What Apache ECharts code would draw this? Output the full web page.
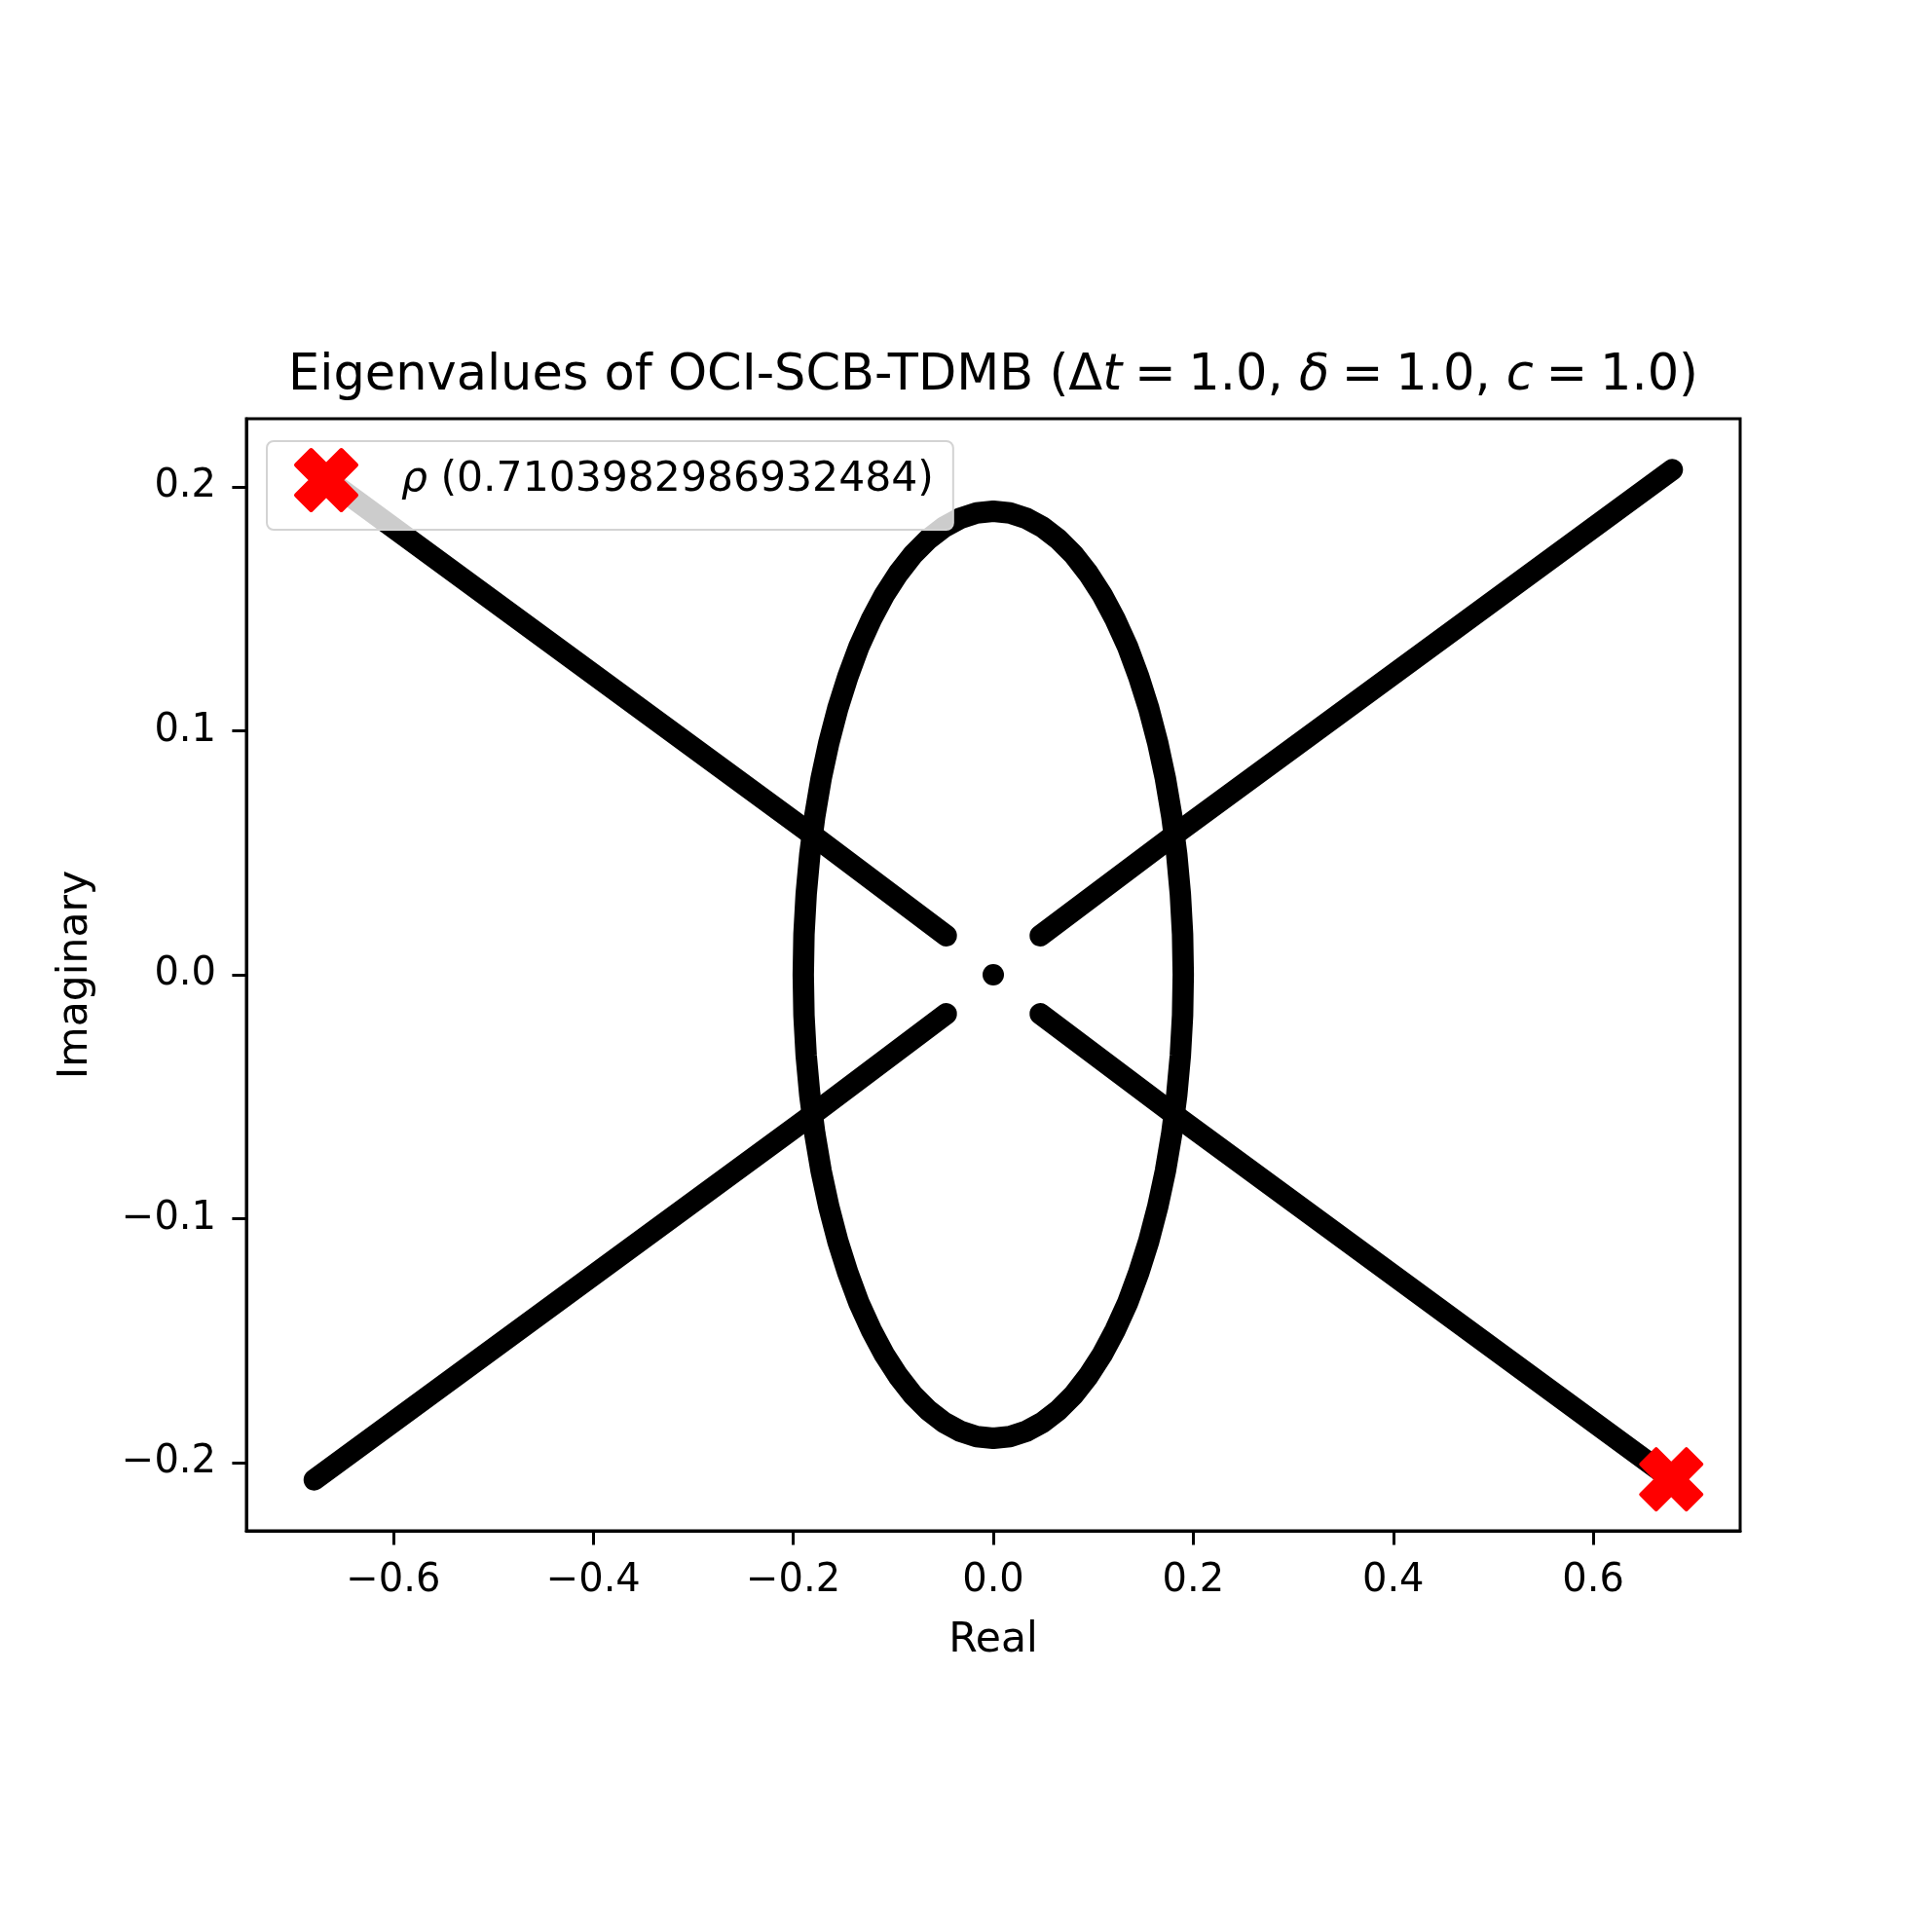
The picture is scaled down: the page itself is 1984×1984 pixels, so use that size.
<!DOCTYPE html>
<html>
<head>
<meta charset="utf-8">
<script src="https://cdn.jsdelivr.net/npm/echarts@6/dist/echarts.min.js"></script>
<style>
html,body{margin:0;padding:0;background:#fff;}
#chart{width:1984px;height:1984px;}
</style>
</head>
<body>
<div id="chart"></div>
<script>
// ---- data ----
const titleText = 'Eigenvalues of OCI-SCB-TDMB (';
const xLabel = 'Real';
const yLabel = 'Imaginary';
const rhoLabel = '0.7103982986932484';

const xTicks = [-0.6, -0.4, -0.2, 0.0, 0.2, 0.4, 0.6];
const yTicks = [-0.2, -0.1, 0.0, 0.1, 0.2];

// closed loop of eigenvalues (approx. circle of radius 0.19), traced every 5 degrees
const loopReal = [
  0.1900, 0.1893, 0.1871, 0.1835, 0.1785, 0.1722, 0.1645, 0.1556, 0.1455, 0.1344,
  0.1221, 0.1090, 0.0950, 0.0803, 0.0650, 0.0492, 0.0330, 0.0166, 0.0000,
  -0.0166, -0.0330, -0.0492, -0.0650, -0.0803, -0.0950, -0.1090, -0.1221, -0.1344,
  -0.1455, -0.1556, -0.1645, -0.1722, -0.1785, -0.1835, -0.1871, -0.1893, -0.1900,
  -0.1893, -0.1871, -0.1835, -0.1785, -0.1722, -0.1645, -0.1556, -0.1455, -0.1344,
  -0.1221, -0.1090, -0.0950, -0.0803, -0.0650, -0.0492, -0.0330, -0.0166, 0.0000,
  0.0166, 0.0330, 0.0492, 0.0650, 0.0803, 0.0950, 0.1090, 0.1221, 0.1344,
  0.1455, 0.1556, 0.1645, 0.1722, 0.1785, 0.1835, 0.1871, 0.1893, 0.1900];
const loopImag = [
  0.0000, 0.0166, 0.0330, 0.0492, 0.0650, 0.0803, 0.0950, 0.1090, 0.1221, 0.1344,
  0.1455, 0.1556, 0.1645, 0.1722, 0.1785, 0.1835, 0.1871, 0.1893, 0.1900,
  0.1893, 0.1871, 0.1835, 0.1785, 0.1722, 0.1645, 0.1556, 0.1455, 0.1344,
  0.1221, 0.1090, 0.0950, 0.0803, 0.0650, 0.0492, 0.0330, 0.0166, 0.0000,
  -0.0166, -0.0330, -0.0492, -0.0650, -0.0803, -0.0950, -0.1090, -0.1221, -0.1344,
  -0.1455, -0.1556, -0.1645, -0.1722, -0.1785, -0.1835, -0.1871, -0.1893, -0.1900,
  -0.1893, -0.1871, -0.1835, -0.1785, -0.1722, -0.1645, -0.1556, -0.1455, -0.1344,
  -0.1221, -0.1090, -0.0950, -0.0803, -0.0650, -0.0492, -0.0330, -0.0166, 0.0000];

// four straight branches
const ulReal = [-0.679, -0.1855, -0.047];
const ulImag = [0.207, 0.0587, 0.016];
const urReal = [0.047, 0.1855, 0.679];
const urImag = [0.016, 0.0587, 0.207];
const llReal = [-0.679, -0.1855, -0.047];
const llImag = [-0.207, -0.0587, -0.016];
const lrReal = [0.047, 0.1855, 0.679];
const lrImag = [-0.016, -0.0587, -0.207];

// isolated eigenvalue at origin
const originReal = [0.0];
const originImag = [0.0];

// spectral radius point
const rhoReal = [0.678];
const rhoImag = [-0.2068];

// ---- build ----
function pairs(xs, ys) { return xs.map((x, i) => [x, ys[i]]); }
function fmt(v) {
  let s = (Math.abs(v) < 1e-9 ? 0 : v).toFixed(1);
  return s.replace('-', '\u2212');
}
const FONT = 'DejaVu Sans';
const FS = 40;     // tick labels
const FL = 42.5;   // axis labels & legend
const FT = 51;     // title
const xPath = 'path://M-1,-2L0,-1L1,-2L2,-1L1,0L2,1L1,2L0,1L-1,2L-2,1L-1,0L-2,-1Z';
const blackLine = { color: '#000', width: 22, cap: 'round', join: 'round', opacity: 1 };

function branch(name, xs, ys) {
  return {
    name: name, type: 'line', data: pairs(xs, ys), showSymbol: false, symbol: 'none',
    lineStyle: blackLine, silent: true, z: 2
  };
}

const chart = echarts.init(document.getElementById('chart'), null, { renderer: 'canvas' });
chart.setOption({
  animation: false,
  backgroundColor: '#fff',
  textStyle: { fontFamily: FONT },
  title: {
    text: titleText + '\u0394{i|t}{s| }={s| }1.0, {i|\u03b4}{s| }={s| }1.0, {i|c}{s| }={s| }1.0)',
    left: 1020, top: 361, textAlign: 'center', padding: 0,
    textStyle: {
      fontFamily: FONT, fontSize: FT, fontWeight: 'normal', color: '#000',
      rich: {
        i: { fontFamily: FONT, fontSize: FT, fontStyle: 'italic', color: '#000' },
        s: { fontFamily: FONT, fontSize: 40, color: '#000' }
      }
    }
  },
  grid: {
    left: 253, right: 197, top: 430, bottom: 412, containLabel: false,
    show: true, borderColor: '#000', borderWidth: 3, backgroundColor: 'transparent'
  },
  legend: {
    data: ['rho'], left: 274, top: 453,
    padding: [7, 20, 18, 28],
    itemWidth: 62, itemHeight: 62,
    backgroundColor: 'rgba(255,255,255,0.8)',
    borderColor: '#d3d3d3', borderWidth: 2, borderRadius: 7,
    itemStyle: { color: '#ff0000', borderColor: '#ff0000', borderWidth: 4, borderJoin: 'round', opacity: 1 },
    formatter: function () { return '{sp|}{i|\u03c1} (' + rhoLabel + ')'; },
    textStyle: {
      fontFamily: FONT, fontSize: FL, color: '#000',
      rich: {
        sp: { width: 41 },
        i: { fontFamily: FONT, fontSize: FL, fontStyle: 'italic', color: '#000' }
      }
    }
  },
  xAxis: {
    type: 'value', min: -0.7469, max: 0.7469,
    name: xLabel, nameLocation: 'middle', nameGap: 91,
    nameTextStyle: { fontFamily: FONT, fontSize: FL, color: '#000' },
    axisLine: { show: true, onZero: false, lineStyle: { color: '#000', width: 3 } },
    axisTick: { show: true, inside: false, length: 14.6, customValues: xTicks, lineStyle: { color: '#000', width: 3 } },
    axisLabel: { show: true, margin: 32, customValues: xTicks, formatter: fmt, fontFamily: FONT, fontSize: FS, color: '#000' },
    splitLine: { show: false }
  },
  yAxis: {
    type: 'value', min: -0.2279, max: 0.2279,
    name: yLabel, nameLocation: 'middle', nameGap: 154, nameRotate: 90,
    nameTextStyle: { fontFamily: FONT, fontSize: FL, color: '#000' },
    axisLine: { show: true, onZero: false, lineStyle: { color: '#000', width: 3 } },
    axisTick: { show: true, inside: false, length: 14.6, customValues: yTicks, lineStyle: { color: '#000', width: 3 } },
    axisLabel: { show: true, margin: 31, customValues: yTicks, formatter: fmt, fontFamily: FONT, fontSize: FS, color: '#000' },
    splitLine: { show: false }
  },
  series: [
    {
      name: 'loop', type: 'line', data: pairs(loopReal, loopImag), showSymbol: false, symbol: 'none',
      lineStyle: blackLine, silent: true, z: 2
    },
    branch('ul', ulReal, ulImag),
    branch('ur', urReal, urImag),
    branch('ll', llReal, llImag),
    branch('lr', lrReal, lrImag),
    {
      name: 'origin', type: 'scatter', data: pairs(originReal, originImag),
      symbol: 'circle', symbolSize: 22, itemStyle: { color: '#000', opacity: 1 }, silent: true, z: 2
    },
    {
      name: 'rho', type: 'scatter', data: pairs(rhoReal, rhoImag),
      symbol: xPath, symbolSize: 62,
      itemStyle: { color: '#ff0000', borderColor: '#ff0000', borderWidth: 4, borderJoin: 'round', opacity: 1 },
      silent: true, z: 3
    }
  ]
});
</script>
</body>
</html>
